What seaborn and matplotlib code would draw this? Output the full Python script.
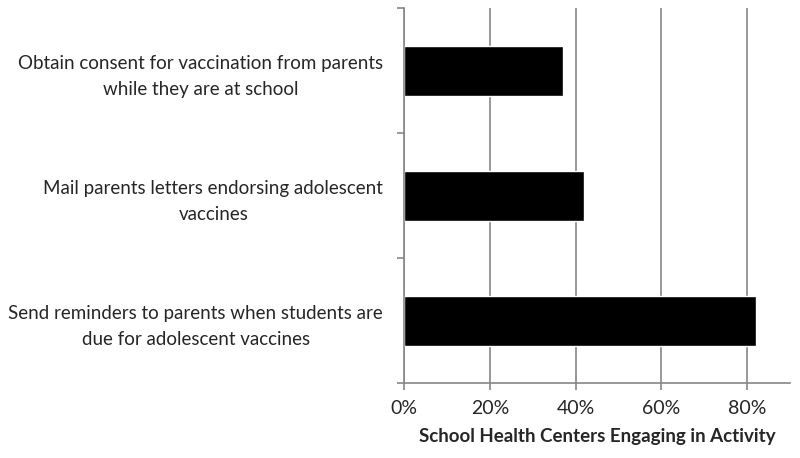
import pandas as pd
import matplotlib
matplotlib.use('Agg')
import matplotlib.pyplot as plt
import seaborn as sns
from matplotlib.ticker import PercentFormatter

activities = ['Obtain consent for vaccination from parents\nwhile they are at school',
              'Mail parents letters endorsing adolescent\nvaccines',
              'Send reminders to parents when students are\ndue for adolescent vaccines']
pct = [0.37, 0.42, 0.82]
xticks = [0, 0.2, 0.4, 0.6, 0.8]

df = pd.DataFrame({'activity': activities, 'pct': pct})

sns.set_style('white')
plt.rcParams['font.family'] = ['Lato', 'DejaVu Sans']

fig = plt.figure(figsize=(8, 4.58), dpi=100)
ax = fig.add_axes([0.505, 0.163, 0.4825, 0.819])
sns.barplot(data=df, x='pct', y='activity', orient='h', color='black',
            width=0.4, saturation=1, ax=ax)

ax.set_xlim(0, 0.9)
ax.set_xticks(xticks)
ax.xaxis.set_major_formatter(PercentFormatter(1.0, decimals=0))
ax.grid(axis='x', color='#868686', linewidth=1.2)
ax.set_axisbelow(True)

# category boundaries as major ticks, labels on minor ticks
n = len(activities)
ax.set_ylim(n - 0.5, -0.5)
ax.set_yticks([i - 0.5 for i in range(n + 1)])
ax.set_yticklabels([])
ax.set_yticks(range(n), minor=True)
ax.set_yticklabels(activities, minor=True, fontsize=13.5, multialignment='center',
                   linespacing=1.65)
ax.tick_params(axis='y', which='major', direction='out', length=5, color='#868686', width=1.2, left=True)
ax.tick_params(axis='y', which='minor', length=0, pad=15)
ax.tick_params(axis='x', direction='out', length=5, color='#868686', width=1.2, labelsize=14, pad=7, bottom=True)

for s in ['top', 'right']:
    ax.spines[s].set_visible(False)
for s in ['left', 'bottom']:
    ax.spines[s].set_color('#868686')
    ax.spines[s].set_linewidth(1.2)

ax.set_ylabel('')
ax.set_xlabel('School Health Centers Engaging in Activity', fontsize=13.5,
              fontweight='bold', labelpad=8)

fig.savefig('out.png', dpi=100)
